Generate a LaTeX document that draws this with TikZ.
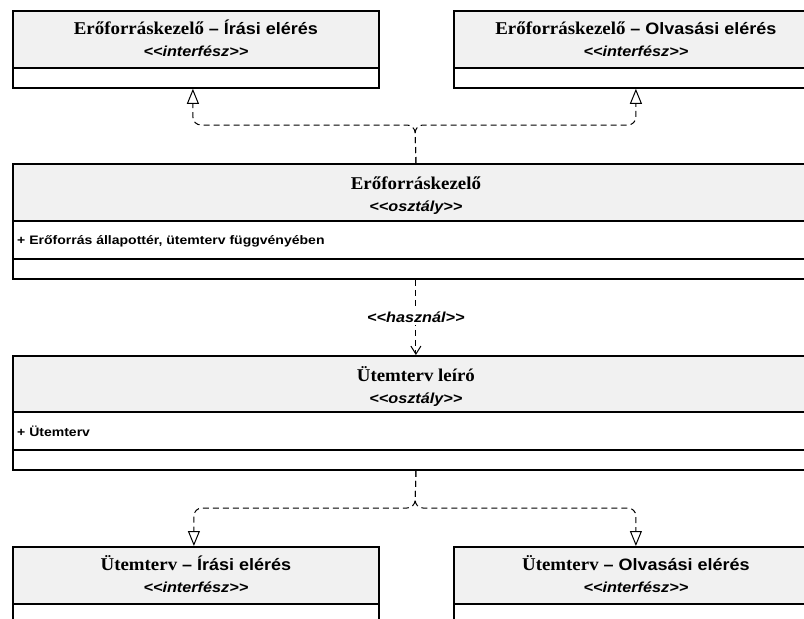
\documentclass[tikz,border=0pt]{standalone}
\usepackage{fontspec}
\setmainfont{Liberation Serif}
\setsansfont{Liberation Sans}
\newfontfamily\headrm{Liberation Serif}[FakeStretch=1.05]
\newfontfamily\headsf{Liberation Sans}[FakeStretch=1.09]
\newfontfamily\stereosf{Liberation Sans}[FakeStretch=1.12]
\newfontfamily\attrsf{Liberation Sans}[FakeStretch=1.14]
\usetikzlibrary{arrows.meta,calc}

\definecolor{hdrgray}{RGB}{241,241,241}

% fonts for class names, stereotypes and attributes
\newcommand\tfrm{\headrm\bfseries\fontsize{18}{20}\selectfont}
\newcommand\tfsf{\headsf\bfseries\fontsize{16.5}{19}\selectfont}
\newcommand\tfst{\stereosf\bfseries\itshape\fontsize{14.5}{17}\selectfont}
\newcommand\tfat{\attrsf\bfseries\fontsize{12.3}{14}\selectfont}
\newcommand\sg[1]{<\kern0pt<#1>\kern0pt>}

\tikzset{
  umlbox/.style={draw=black, line width=1.8pt, fill=white, inner sep=0pt,
    anchor=north west, minimum width=#1},
  header/.style={path picture={\fill[hdrgray] (path picture bounding box.north west)
      rectangle ([yshift=-#1]path picture bounding box.north east);}},
  divider/.style={line width=1.2pt},
  titletext/.style={inner sep=0pt, anchor=base},
  attrtext/.style={inner sep=0pt, anchor=base west, font=\tfat},
  realize/.style={draw, line width=1pt, dash pattern=on 6pt off 4pt,
    rounded corners=8pt, -{Triangle[open, length=15pt, width=12pt, line width=1pt]}},
  usage/.style={draw, line width=1pt, dash pattern=on 6pt off 4pt,
    -{Straight Barb[length=8pt, width=10pt, line width=1pt]}},
  stereolabel/.style={fill=white, inner sep=2pt, font=\tfst},
}

\begin{document}
\begin{tikzpicture}[x=1pt, y=-1pt]
\useasboundingbox (0,0) rectangle (804,619);
\clip (0,0) rectangle (804,619);

% interface boxes (top)
\node[umlbox=366pt, minimum height=77pt, header=58pt] (ifw) at (12,10) {};
\draw[divider] ([yshift=-58pt]ifw.north west) -- ([yshift=-58pt]ifw.north east);
\node[umlbox=364pt, minimum height=77pt, header=58pt] (ifr) at (453,10) {};
\draw[divider] ([yshift=-58pt]ifr.north west) -- ([yshift=-58pt]ifr.north east);

% resource manager class
\node[umlbox=806pt, minimum height=115pt, header=58pt] (ek) at (12,163) {};
\draw[divider] ([yshift=-58pt]ek.north west) -- ([yshift=-58pt]ek.north east);
\draw[divider] ([yshift=-96pt]ek.north west) -- ([yshift=-96pt]ek.north east);

% schedule descriptor class
\node[umlbox=806pt, minimum height=114pt, header=57pt] (ul) at (12,355) {};
\draw[divider] ([yshift=-57pt]ul.north west) -- ([yshift=-57pt]ul.north east);
\draw[divider] ([yshift=-95pt]ul.north west) -- ([yshift=-95pt]ul.north east);

% interface boxes (bottom)
\node[umlbox=366pt, minimum height=110pt, header=58pt] (uiw) at (12,546) {};
\draw[divider] ([yshift=-58pt]uiw.north west) -- ([yshift=-58pt]uiw.north east);
\node[umlbox=364pt, minimum height=110pt, header=58pt] (uir) at (453,546) {};
\draw[divider] ([yshift=-58pt]uir.north west) -- ([yshift=-58pt]uir.north east);

% names and stereotypes
\node[titletext] (ifwT) at ([yshift=-24pt]ifw.north) {{\tfrm Erőforráskezelő}{\tfsf{} – Írási elérés}};
\node[titletext, font=\tfst] (ifwS) at ([yshift=-46pt]ifw.north) {\sg{interfész}};
\node[titletext] (ifrT) at ([yshift=-24pt]ifr.north) {{\tfrm Erőforráskezelő}{\tfsf{} – Olvasási elérés}};
\node[titletext, font=\tfst] (ifrS) at ([yshift=-46pt]ifr.north) {\sg{interfész}};

\node[titletext, font=\tfrm] (ekT) at ([yshift=-26pt]ek.north) {Erőforráskezelő};
\node[titletext, font=\tfst] (ekS) at ([yshift=-48pt]ek.north) {\sg{osztály}};
\node[attrtext] (ekA) at ([xshift=5pt, yshift=-81pt]ek.north west) {+ Erőforrás állapottér, ütemterv függvényében};

\node[titletext, font=\tfrm] (ulT) at ([yshift=-26pt]ul.north) {Ütemterv leíró};
\node[titletext, font=\tfst] (ulS) at ([yshift=-48pt]ul.north) {\sg{osztály}};
\node[attrtext] (ulA) at ([xshift=5pt, yshift=-81pt]ul.north west) {+ Ütemterv};

\node[titletext] (uiwT) at ([yshift=-24pt]uiw.north) {{\tfrm Ütemterv}{\tfsf{} – Írási elérés}};
\node[titletext, font=\tfst] (uiwS) at ([yshift=-46pt]uiw.north) {\sg{interfész}};
\node[titletext] (uirT) at ([yshift=-24pt]uir.north) {{\tfrm Ütemterv}{\tfsf{} – Olvasási elérés}};
\node[titletext, font=\tfst] (uirS) at ([yshift=-46pt]uir.north) {\sg{interfész}};

% realizations of the interfaces
\coordinate (jt) at (415,125);
\draw[realize] (ek.north) -- (jt) -| ([xshift=-3pt]ifw.south);
\draw[realize] (ek.north) -- (jt) -| (ifr.south);

\coordinate (jb) at (415,508);
\draw[realize] (ul.south) -- (jb) -| ([xshift=-2pt]uiw.north);
\draw[realize] (ul.south) -- (jb) -| (uir.north);

% usage dependency
\draw[usage] (ek.south) -- node[stereolabel] (use) {\sg{használ}} (ul.north);
\end{tikzpicture}
\end{document}
